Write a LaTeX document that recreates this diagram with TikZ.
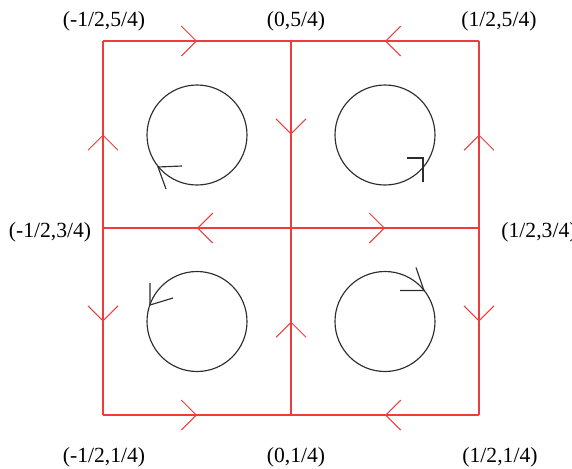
\documentclass[tikz,border=0pt]{standalone}
\usepackage{fontspec}
\setmainfont{Liberation Serif}
\usepackage{xcolor}
\usetikzlibrary{arrows.meta,decorations.markings}

\definecolor{edgered}{RGB}{238,60,60}
\definecolor{ringgray}{RGB}{45,45,45}

\begin{document}
\begin{tikzpicture}[
  x=0.02cm, y=-0.02cm,
  lbl/.style={font=\fontsize{12.3}{14}\selectfont, inner sep=0pt},
  edge/.style={draw=edgered, line width=0.6pt,
    postaction={decorate},
    decoration={markings, mark=at position 0.5 with
      {\arrow[edgered]{Straight Barb[length=3mm, width=6mm, line width=0.6pt]}}}},
  ring/.style={draw=ringgray, line width=0.65pt},
]
\useasboundingbox (0,0) rectangle (572,468);

% grid points
\coordinate (tl) at (103,41);  \coordinate (tm) at (291,41);  \coordinate (tr) at (479,41);
\coordinate (ml) at (103,228); \coordinate (mm) at (291,228); \coordinate (mr) at (479,228);
\coordinate (bl) at (103,415); \coordinate (bm) at (291,415); \coordinate (br) at (479,415);

% circle centres
\coordinate (c1) at (197,135);   \coordinate (c2) at (385,135);
\coordinate (c3) at (197,321.5); \coordinate (c4) at (385,321.5);

% edges with flow direction
\draw[edge] (tl) -- (tm);
\draw[edge] (tr) -- (tm);
\draw[edge] (tm) -- (mm);
\draw[edge] (ml) -- (tl);
\draw[edge] (mr) -- (tr);
\draw[edge] (mm) -- (ml);
\draw[edge] (mm) -- (mr);
\draw[edge] (ml) -- (bl);
\draw[edge] (bm) -- (mm);
\draw[edge] (mr) -- (br);
\draw[edge] (bl) -- (bm);
\draw[edge] (br) -- (bm);

% circulations
\draw[ring] (c1) circle[radius=50];
\draw[ring] (c2) circle[radius=50];
\draw[ring] (c3) circle[radius=50];
\draw[ring] (c4) circle[radius=50];
\draw[ring, shift={(c1)}] (-15,31) -- (-39,32) -- (-31,54);
\draw[ring, shift={(c2)}] (22,23) -- (38,23) -- (38,47);
\draw[ring, shift={(c3)}] (-24,-23.5) -- (-47,-16.5) -- (-47,-38.5);
\draw[ring, shift={(c4)}] (15,-31) -- (39,-31) -- (31,-54);

% corner labels
\node[lbl] (ltl) at (104,21.5) {(-1/2,5/4)};
\node[lbl] (ltm) at (296,21.5) {(0,5/4)};
\node[lbl] (ltr) at (499,21.5) {(1/2,5/4)};
\node[lbl] (lml) at (50,232)   {(-1/2,3/4)};
\node[lbl] (lmr) at (539,232)  {(1/2,3/4)};
\node[lbl] (lbl) at (104,457)  {(-1/2,1/4)};
\node[lbl] (lbm) at (296,457)  {(0,1/4)};
\node[lbl] (lbr) at (500,457)  {(1/2,1/4)};

\end{tikzpicture}
\end{document}
